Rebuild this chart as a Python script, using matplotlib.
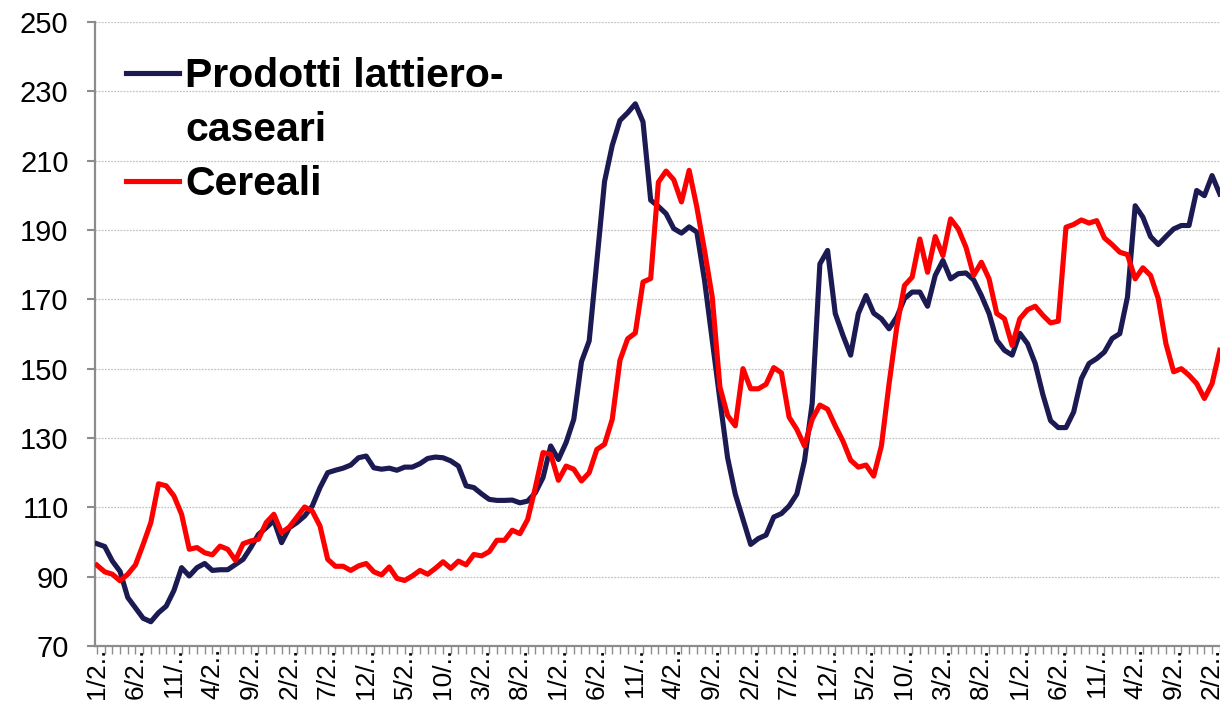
import matplotlib
matplotlib.use("Agg")
import matplotlib.pyplot as plt
from matplotlib.lines import Line2D

plt.rcParams['font.family'] = ['Liberation Sans', 'DejaVu Sans']

# indici mensili, gennaio 2002 -> marzo 2014
lattiero = [
    99.5, 98.7, 94.5, 91.5, 84.0, 81.0, 78.0, 77.0, 79.6, 81.5,
    86.0, 92.6, 90.2, 92.6, 93.8, 91.8, 92.0, 92.0, 93.5, 95.0,
    98.4, 102.2, 104.1, 106.2, 99.8, 104.1, 105.6, 107.5, 110.4, 115.7,
    120.0, 120.7, 121.3, 122.2, 124.3, 124.8, 121.4, 121.0, 121.3, 120.7,
    121.6, 121.6, 122.6, 124.1, 124.5, 124.3, 123.4, 121.9, 116.2, 115.7,
    113.9, 112.3, 112.0, 112.0, 112.1, 111.3, 111.8, 114.2, 118.6, 127.7,
    123.8, 128.7, 135.4, 152.0, 158.0, 181.0, 204.0, 214.4, 221.6, 223.8,
    226.4, 221.2, 198.6, 196.8, 194.7, 190.4, 189.1, 190.9, 189.4, 175.5,
    158.2, 141.0, 124.3, 113.8, 106.5, 99.3, 101.0, 102.0, 107.2, 108.2,
    110.4, 113.8, 123.4, 140.0, 180.2, 184.1, 165.9, 159.6, 153.9, 165.9,
    171.1, 166.0, 164.4, 161.5, 164.9, 170.2, 172.1, 172.1, 168.0, 176.9,
    181.2, 175.9, 177.4, 177.6, 175.6, 171.1, 165.9, 158.2, 155.3, 153.9,
    160.2, 157.2, 151.5, 142.5, 135.0, 133.0, 133.0, 137.5, 147.1, 151.5,
    152.9, 154.8, 158.7, 160.1, 170.7, 197.0, 193.7, 188.1, 185.8, 188.1,
    190.3, 191.3, 191.3, 201.4, 199.9, 205.7, 200.4,
]

cereali = [
    93.3, 91.4, 90.7, 88.8, 90.7, 93.4, 99.3, 105.6, 116.8, 116.2,
    113.3, 108.0, 97.9, 98.4, 96.9, 96.3, 98.8, 97.9, 94.7, 99.5,
    100.3, 100.8, 105.6, 108.0, 102.7, 104.3, 107.2, 110.1, 108.9, 104.6,
    95.0, 93.0, 93.0, 91.8, 93.1, 93.8, 91.4, 90.5, 92.8, 89.5,
    88.9, 90.2, 91.8, 90.7, 92.4, 94.3, 92.4, 94.5, 93.4, 96.4,
    96.0, 97.2, 100.5, 100.5, 103.4, 102.4, 106.5, 115.7, 125.8, 125.3,
    117.8, 121.9, 121.0, 117.6, 120.0, 126.7, 128.2, 135.4, 152.4, 158.6,
    160.3, 175.0, 176.0, 203.8, 207.0, 204.5, 198.1, 207.2, 196.6, 184.1,
    170.7, 144.7, 136.5, 133.5, 150.0, 144.2, 144.2, 145.5, 150.3, 148.8,
    136.0, 132.5, 127.7, 135.4, 139.5, 138.3, 133.5, 129.1, 123.6, 121.6,
    122.2, 119.0, 127.7, 145.7, 162.0, 174.0, 176.4, 187.4, 177.8, 188.1,
    182.6, 193.2, 190.3, 185.0, 176.9, 180.7, 175.9, 165.9, 164.4, 156.7,
    164.4, 167.0, 168.0, 165.4, 163.2, 163.7, 190.8, 191.6, 192.9, 192.0,
    192.7, 187.7, 185.8, 183.6, 182.9, 175.9, 179.1, 176.9, 170.2, 157.2,
    149.1, 150.0, 148.1, 145.7, 141.4, 145.7, 155.3,
]

# etichette troncate come nel grafico originale (una ogni 5 mesi)
etichette = [
    "1/2..", "6/2..", "11/..", "4/2..", "9/2..", "2/2..", "7/2..", "12/..",
    "5/2..", "10/..", "3/2..", "8/2..", "1/2..", "6/2..", "11/..", "4/2..",
    "9/2..", "2/2..", "7/2..", "12/..", "5/2..", "10/..", "3/2..", "8/2..",
    "1/2..", "6/2..", "11/..", "4/2..", "9/2..", "2/2..",
]

voci = ['Prodotti lattiero-', 'caseari', 'Cereali']

blu = '#1c1a52'
rosso = '#ff0000'
grigio = '#8c8c8c'

fig = plt.figure(figsize=(12.2, 7.06), dpi=100)
ax = fig.add_axes([95 / 1220, 60 / 706, 1 - 95 / 1220, 624 / 706])

mesi = list(range(len(lattiero)))
ax.plot(mesi, lattiero, color=blu, lw=3.7, solid_joinstyle='round', zorder=3)
ax.plot(mesi, cereali, color=rosso, lw=3.7, solid_joinstyle='round', zorder=4)

ax.set_xlim(-0.26, 146.03)
ax.set_ylim(70, 250)
ax.set_yticks(range(70, 251, 20))
ax.set_xticks(range(0, 5 * len(etichette), 5))
ax.set_xticklabels(etichette, rotation=90, fontsize=19)
ax.set_xticks(mesi, minor=True)

ax.grid(axis='y', color='#c4c4c4', linestyle=(0, (1.5, 1)), lw=0.9, zorder=0)
ax.tick_params(axis='y', labelsize=21, length=6, width=1.5, color=grigio, pad=13)
ax.tick_params(axis='x', which='both', length=6, width=1.0, color=grigio, pad=-5)

for s in ['top', 'right']:
    ax.spines[s].set_visible(False)
for s in ['left', 'bottom']:
    ax.spines[s].set_color(grigio)
    ax.spines[s].set_linewidth(1.6)

# la seconda riga del primo nome non ha linea
maniglie = [Line2D([], [], color=blu, lw=3.7),
            Line2D([], [], color='none', lw=3.7),
            Line2D([], [], color=rosso, lw=3.7)]
leg = ax.legend(maniglie, voci,
                loc='upper left', bbox_to_anchor=(126 / 1220, 1 - 57 / 706),
                bbox_transform=fig.transFigure, frameon=False,
                prop={'weight': 'bold', 'size': 29.5},
                handlelength=1.3, handletextpad=0.15, borderpad=0,
                borderaxespad=0, labelspacing=0.39)

fig.savefig('out.png', dpi=100)
